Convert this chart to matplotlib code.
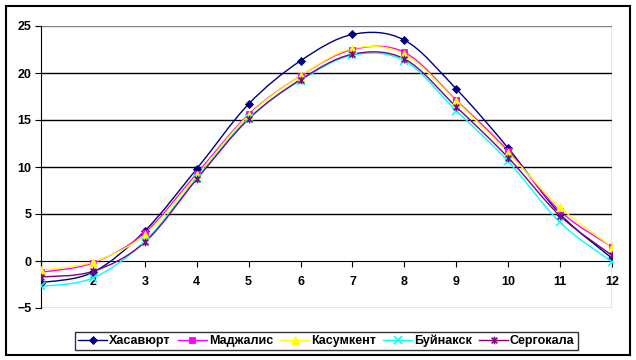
import matplotlib
matplotlib.use("Agg")
import matplotlib.pyplot as plt
import numpy as np
from matplotlib.path import Path
from matplotlib.patches import PathPatch, Rectangle
from matplotlib.lines import Line2D

plt.rcParams['font.family'] = ['Liberation Sans', 'DejaVu Sans']

months = [1, 2, 3, 4, 5, 6, 7, 8, 9, 10, 11, 12]
month_labels = ["", "2", "3", "4", "5", "6", "7", "8", "9", "10", "11", "12"]
names = ["Хасавюрт", "Маджалис", "Касумкент", "Буйнакск", "Сергокала"]
khasavyurt = [-2.3, -1.2, 3.2, 9.8, 16.7, 21.3, 24.1, 23.5, 18.3, 12.0, 5.0, 0.3]
madzhalis = [-1.2, -0.2, 3.0, 9.3, 15.6, 19.7, 22.5, 22.2, 17.1, 11.7, 5.3, 1.5]
kasumkent = [-1.0, -0.1, 2.8, 9.1, 15.5, 19.7, 22.6, 22.0, 17.0, 11.5, 5.7, 1.5]
buynaksk = [-2.7, -1.8, 2.1, 8.8, 15.2, 19.2, 21.9, 21.3, 16.0, 10.6, 4.1, -0.1]
sergokala = [-1.7, -1.1, 2.0, 8.7, 15.1, 19.3, 22.0, 21.5, 16.4, 11.0, 4.8, 0.6]
series = [khasavyurt, madzhalis, kasumkent, buynaksk, sergokala]

colors = ["#000080", "#FF00FF", "#FFFF00", "#00FFFF", "#800080"]
star = Path([(-1, -1), (1, 1), (-1, 1), (1, -1), (0, -1.3), (0, 1.3)],
            [Path.MOVETO, Path.LINETO, Path.MOVETO, Path.LINETO, Path.MOVETO, Path.LINETO])
markers = ["D", "s", "^", "x", star]
msizes = [4.5, 5, 5.5, 5.5, 5.5]

fig = plt.figure(figsize=(6.36, 3.6), dpi=100)
ax = fig.add_axes([41/636, 1-308/360, (612-41)/636, (308-26)/360])
ax.set_xlim(1, 12)
ax.set_ylim(-5, 25)


def smooth_path(xs, ys):
    P = np.column_stack([xs, ys]).astype(float)
    n = len(P)
    verts = [P[0]]
    codes = [Path.MOVETO]
    for i in range(n - 1):
        pm = P[i - 1] if i > 0 else P[i]
        pp = P[i + 2] if i + 2 < n else P[i + 1]
        c1 = P[i] + (P[i + 1] - pm) / 6.0
        c2 = P[i + 1] - (pp - P[i]) / 6.0
        verts += [c1, c2, P[i + 1]]
        codes += [Path.CURVE4] * 3
    return Path(verts, codes)


def mew(m):
    return 1.1 if (isinstance(m, Path) or m == "x") else 0.6


for vals, c, m, ms in zip(series, colors, markers, msizes):
    ax.add_patch(PathPatch(smooth_path(months, vals), fill=False, edgecolor=c, lw=1.0, zorder=3))
    ax.plot(months, vals, linestyle='none', marker=m, color=c, markersize=ms,
            markeredgewidth=mew(m), zorder=4)

for y in [5, 10, 15, 20]:
    ax.axhline(y, color='black', lw=1.0, zorder=1)
ax.axhline(25, color='#808080', lw=1.0, zorder=1)
ax.axhline(-5, color='#808080', lw=1.0, zorder=1)
ax.axvline(12, color='#808080', lw=1.0, zorder=1)

for s in ['top', 'right']:
    ax.spines[s].set_visible(False)
ax.spines['bottom'].set_position(('data', 0))
ax.spines['bottom'].set_color('black')
ax.spines['left'].set_color('black')
ax.set_xticks(months)
ax.set_xticklabels(month_labels)
ax.set_yticks([-5, 0, 5, 10, 15, 20, 25])
ax.tick_params(axis='x', direction='out', length=4, pad=7, labelsize=9)
ax.tick_params(axis='y', direction='out', length=4, pad=3, labelsize=9)
for lbl in ax.get_xticklabels() + ax.get_yticklabels():
    lbl.set_fontweight('bold')

handles = [Line2D([0], [0], color=c, marker=m, markersize=ms, lw=1.0,
                  markeredgewidth=mew(m))
           for c, m, ms in zip(colors, markers, msizes)]
leg = fig.legend(handles, names, loc='center', bbox_to_anchor=(326.5/636, 1-341/360),
                 ncol=5, frameon=True, fancybox=False, edgecolor='black',
                 prop={'weight': 'bold', 'size': 9}, handlelength=2.3,
                 handletextpad=0.15, columnspacing=0.6, borderpad=0.25)
leg.get_frame().set_linewidth(1.0)

fig.patches.append(Rectangle((6/636, 1-355/360), (630-6)/636, (355-6)/360,
                             transform=fig.transFigure, fill=False, edgecolor='black', lw=1.5))

fig.savefig("out.png", dpi=100)
